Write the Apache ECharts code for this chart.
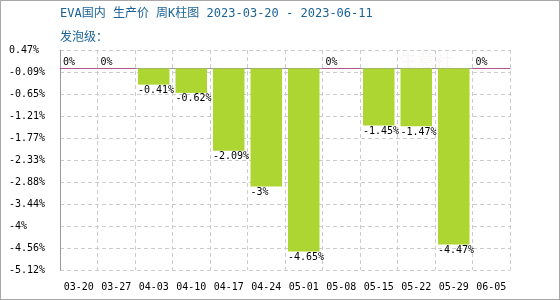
<!DOCTYPE html>
<html>
<head>
<meta charset="utf-8">
<script src="https://cdn.jsdelivr.net/npm/echarts@6/dist/echarts.min.js"></script>
<style>
html,body{margin:0;padding:0;background:#fff;}
#c{width:560px;height:300px;box-sizing:border-box;border:1px solid #a8a8a8;}
</style>
</head>
<body>
<div id="c"></div>
<script>
const categories = ['03-20','03-27','04-03','04-10','04-17','04-24','05-01','05-08','05-15','05-22','05-29','06-05'];
const values = [0, 0, -0.41, -0.62, -2.09, -3, -4.65, 0, -1.45, -1.47, -4.47, 0];
const yTickLabels = ['-5.12%','-4.56%','-4%','-3.44%','-2.88%','-2.33%','-1.77%','-1.21%','-0.65%','-0.09%','0.47%'];
const yMin = -5.12, yMax = 0.47, yStep = 0.559;
const titleText = 'EVA国内 生产价 周K柱图 2023-03-20 - 2023-06-11';
const subText = '发泡级：';

const mono = "'DejaVu Sans Mono', 'Noto Sans CJK SC', monospace";
const chart = echarts.init(document.getElementById('c'), null, {renderer: 'canvas'});
chart.setOption({
  animation: false,
  backgroundColor: '#fff',
  title: {
    text: titleText,
    subtext: subText,
    left: 59, top: 7, itemGap: 10,
    padding: 0,
    textStyle: {fontSize: 12, fontWeight: 'normal', color: '#1b6396', fontFamily: mono},
    subtextStyle: {fontSize: 12, color: '#1b6396', fontFamily: "'Noto Sans CJK SC', sans-serif"}
  },
  graphic: [{
    type: 'text', left: 398, top: 50, silent: true,
    style: {text: '生意社', font: '18px "Noto Sans CJK SC"', fill: 'rgba(220,200,200,0.18)'}
  }],
  grid: {left: 59, top: 49, width: 450, height: 220, containLabel: false},
  xAxis: {
    type: 'category',
    data: categories,
    boundaryGap: true,
    axisLine: {show: true, lineStyle: {color: '#999', width: 1}},
    axisTick: {show: false},
    axisLabel: {color: '#000', fontSize: 10, fontFamily: mono, margin: 12, interval: 0},
    splitLine: {show: true, interval: 0, lineStyle: {color: '#ccc', type: [4, 3], width: 1}}
  },
  yAxis: {
    type: 'value',
    min: yMin, max: yMax, interval: yStep,
    axisLine: {show: true, lineStyle: {color: '#999', width: 1}},
    axisTick: {show: false},
    axisLabel: {
      color: '#000', fontSize: 10, fontFamily: mono, align: 'left', margin: 51,
      formatter: (v, i) => yTickLabels[i]
    },
    splitLine: {show: true, lineStyle: {color: '#ccc', type: [4, 3], width: 1}}
  },
  series: [{
    type: 'bar',
    data: values,
    barCategoryGap: '16%',
    itemStyle: {color: '#add632'},
    label: {
      show: true,
      position: [0, '100%'],
      offset: [0, 1],
      align: 'left', verticalAlign: 'top',
      color: '#000', fontSize: 10, fontFamily: mono,
      formatter: p => p.value === 0 ? '' : p.value + '%'
    }
  }, {
    type: 'custom',
    data: values.map((v, i) => [i, v]),
    z: 3,
    renderItem: (params, api) => {
      const v = api.value(1);
      if (v !== 0) return null;
      const p = api.coord([api.value(0), 0]);
      const w = api.size([1, 0])[0];
      return {
        type: 'group',
        children: [{
          type: 'line',
          shape: {x1: p[0] - w / 2, y1: p[1], x2: p[0] + w / 2, y2: p[1]},
          style: {stroke: '#b4558f', lineWidth: 1}
        }, {
          type: 'text',
          style: {text: '0%', x: p[0] - w / 2 + 3, y: p[1] - 1, textAlign: 'left', textVerticalAlign: 'bottom',
                  font: "10px 'DejaVu Sans Mono'", fill: '#000'}
        }]
      };
    }
  }]
});
</script>
</body>
</html>
